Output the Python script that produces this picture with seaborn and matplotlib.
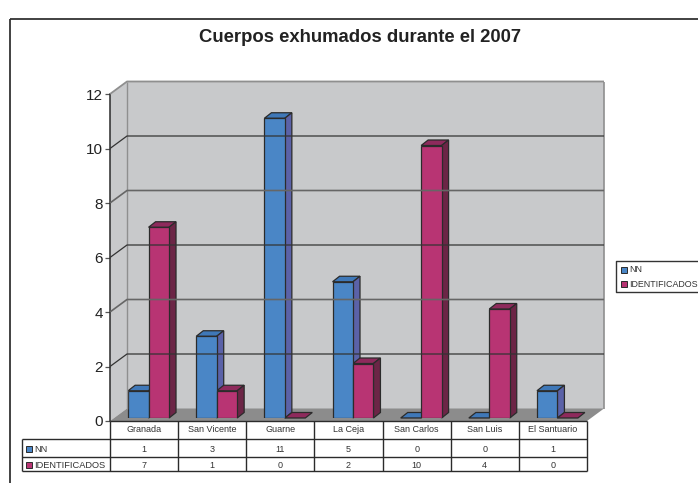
import matplotlib
matplotlib.use('Agg')
import matplotlib.pyplot as plt
import pandas as pd
import seaborn as sns
from matplotlib.lines import Line2D
from matplotlib.patches import Polygon, Rectangle

municipios = ['Granada', 'San Vicente', 'Guarne', 'La Ceja', 'San Carlos', 'San Luis', 'El Santuario']
nn = [1, 3, 11, 5, 0, 0, 1]
identificados = [7, 1, 0, 2, 10, 4, 0]
series_names = ['NN', 'IDENTIFICADOS']
value_ticks = [0, 2, 4, 6, 8, 10, 12]
title = 'Cuerpos exhumados durante el 2007'

W, H = 698, 483
BLUE = '#4a86c6'
BLUE_TOP = '#3f78b8'
BLUE_SIDE = '#5b62a8'
RED = '#b83473'
RED_TOP = '#8e2a5c'
RED_SIDE = '#6c2546'
WALL = '#c8c9cb'
FLOOR = '#8c8c8c'
INK = '#2b2b2b'

plt.rcParams['font.family'] = ['Liberation Sans', 'DejaVu Sans']

fig = plt.figure(figsize=(W / 100, H / 100), dpi=100, facecolor='white')


# everything outside the bars is placed in image pixels, y going down
def fx(x):
    return x / W


def fy(y):
    return 1 - y / H


def px_line(x, y, color=INK, lw=1.0, z=1):
    fig.add_artist(Line2D([fx(v) for v in x], [fy(v) for v in y], color=color, lw=lw, zorder=z,
                          solid_capstyle='butt'))


def px_poly(points, color, z=0):
    fig.add_artist(Polygon([(fx(a), fy(b)) for a, b in points], closed=True, facecolor=color,
                           edgecolor='none', transform=fig.transFigure, zorder=z))


def px_axes(left, top, right, bottom):
    return fig.add_axes([fx(left), fy(bottom), (right - left) / W, (bottom - top) / H])


# front plane of the chart: value axis and category columns
LEFT, RIGHT, TOP, BOTTOM = 110, 587, 94, 421
DX, DY = 17, 12.5

# outer frame
px_line([10, 10], [19, 483], color='#333333', lw=1.3)
px_line([10, 698], [19, 19], color='#333333', lw=1.3)

# walls and floor
px_poly([(LEFT + DX, TOP - DY), (RIGHT + DX, TOP - DY), (RIGHT + DX, BOTTOM - DY), (LEFT + DX, BOTTOM - DY)], WALL)
px_poly([(LEFT, TOP), (LEFT + DX, TOP - DY), (LEFT + DX, BOTTOM - DY), (LEFT, BOTTOM)], WALL)
px_poly([(LEFT, BOTTOM), (LEFT + DX, BOTTOM - DY), (RIGHT + DX, BOTTOM - DY), (RIGHT, BOTTOM)], FLOOR)
px_line([LEFT + DX, LEFT + DX], [TOP - DY, BOTTOM - DY], color='#8f8f8f', lw=1.0)
px_line([RIGHT + DX, RIGHT + DX], [TOP - DY, BOTTOM - DY], color='#8f8f8f', lw=1.2)

ax = px_axes(LEFT, TOP, RIGHT, BOTTOM)
ax.patch.set_alpha(0)
ax.set_xlim(0, len(municipios))
ax.set_ylim(0, 12)
ax.set_yticks(value_ticks)
ax.set_xticks([])
ax.tick_params(axis='y', length=3.8, width=0.9, color='#555555', labelsize=11, labelcolor='#222222', pad=1.2)
for side in ['top', 'right', 'bottom']:
    ax.spines[side].set_visible(False)
ax.spines['left'].set_color(INK)
ax.spines['left'].set_linewidth(1.1)

# gridlines run along the side wall and the back wall
unit = (BOTTOM - TOP) / 12
for v in value_ticks:
    y = BOTTOM - v * unit
    if v == 12:
        px_line([LEFT, LEFT + DX, RIGHT + DX], [y, y - DY, y - DY], color='#8f8f8f', lw=1.3, z=1)
    elif v == 4 or v == 8:
        px_line([LEFT, LEFT + DX, RIGHT + DX], [y, y - DY, y - DY], color='#666666', lw=1.2, z=1)
    elif v > 0:
        px_line([LEFT, LEFT + DX, RIGHT + DX], [y, y - DY, y - DY], color='#333333', lw=0.9, z=1)

# bars sit slightly behind the front plane
bx = px_axes(LEFT + 4.5, TOP - 3, RIGHT + 4.5, BOTTOM - 3)
bx.patch.set_alpha(0)
bar_data = pd.DataFrame({
    'municipio': municipios * 2,
    'serie': [series_names[0]] * len(nn) + [series_names[1]] * len(identificados),
    'valor': nn + identificados,
})
sns.barplot(data=bar_data, x='municipio', y='valor', hue='serie', hue_order=series_names, palette=[BLUE, RED],
            width=0.6, gap=0, saturation=1, legend=False, ax=bx, edgecolor=INK, linewidth=0.9, zorder=3)
bx.set_xlim(-0.5, len(municipios) - 0.5)
bx.set_ylim(0, 12)
bx.axis('off')

# depth of each bar, taken from the bars seaborn drew
depth_x = 7 / ((RIGHT - LEFT) / len(municipios))
depth_y = 5.5 / unit
for i, bar in enumerate(bx.patches[:2 * len(municipios)]):
    top_color, side_color = (BLUE_TOP, BLUE_SIDE) if i < len(municipios) else (RED_TOP, RED_SIDE)
    x0, w, h = bar.get_x(), bar.get_width(), bar.get_height()
    top_face = [(x0, h), (x0 + depth_x, h + depth_y), (x0 + w + depth_x, h + depth_y), (x0 + w, h)]
    bx.add_patch(Polygon(top_face, closed=True, facecolor=top_color, edgecolor=INK, lw=0.9, zorder=2.5,
                         clip_on=False))
    if h > 0:
        side_face = [(x0 + w, 0), (x0 + w + depth_x, depth_y), (x0 + w + depth_x, h + depth_y), (x0 + w, h)]
        bx.add_patch(Polygon(side_face, closed=True, facecolor=side_color, edgecolor=INK, lw=0.9, zorder=2.5,
                             clip_on=False))

# data table under the chart
ROW_Y = [421, 439, 456.5, 471]
TABLE_LEFT = 22
col_w = (RIGHT - LEFT) / len(municipios)
px_line([LEFT, RIGHT], [ROW_Y[0], ROW_Y[0]], lw=1.0, z=2)
px_line([TABLE_LEFT, RIGHT], [ROW_Y[1], ROW_Y[1]], lw=1.0, z=2)
px_line([TABLE_LEFT, RIGHT], [ROW_Y[2], ROW_Y[2]], lw=1.0, z=2)
px_line([TABLE_LEFT, RIGHT], [ROW_Y[3], ROW_Y[3]], lw=1.0, z=2)
px_line([TABLE_LEFT, TABLE_LEFT], [ROW_Y[1], ROW_Y[3]], lw=1.0, z=2)
for i in range(len(municipios) + 1):
    px_line([LEFT + i * col_w] * 2, [ROW_Y[0], ROW_Y[3]], lw=1.0, z=2)


def cell_text(x, y, s, size=6.5, ha='center'):
    fig.text(fx(x), fy(y), s, ha=ha, va='center', fontsize=size, color='#333333')


for i, name in enumerate(municipios):
    xc = LEFT + (i + 0.5) * col_w
    cell_text(xc, 430, name)
    cell_text(xc, 449, str(nn[i]))
    cell_text(xc, 465, str(identificados[i]))


def swatch(x, y, color):
    fig.add_artist(Rectangle((fx(x), fy(y + 6)), 6 / W, 6 / H, facecolor=color, edgecolor=INK, lw=0.7,
                             transform=fig.transFigure))


swatch(26, 446, BLUE)
swatch(26, 462, RED)
cell_text(34, 449.5, series_names[0], size=6.7, ha='left')
cell_text(34, 465.5, series_names[1], size=6.7, ha='left')

# legend box, it runs off the right edge of the picture
px_line([698, 616, 616, 698], [261, 261, 292, 292], color='#333333', lw=1.0)
swatch(621, 267, BLUE)
swatch(621, 281, RED)
cell_text(629, 270, series_names[0], size=6.4, ha='left')
cell_text(629, 284.5, series_names[1], size=6.4, ha='left')

fig.text(fx(360), fy(37), title, ha='center', va='center', fontsize=13.3, fontweight='bold', color='#222222')

fig.savefig('out.png', dpi=100, facecolor='white')
